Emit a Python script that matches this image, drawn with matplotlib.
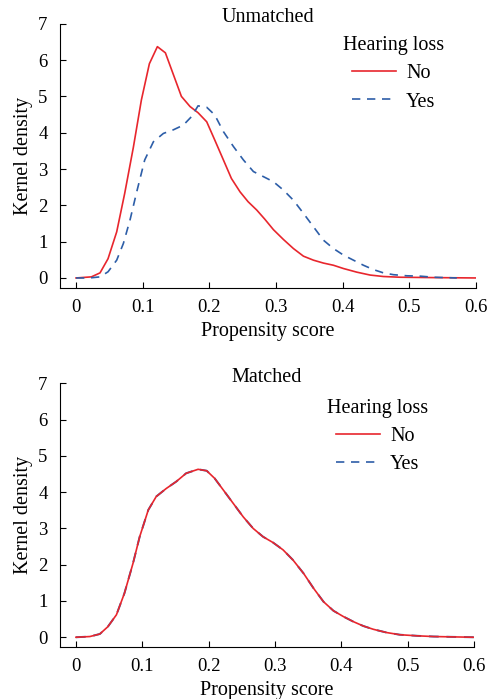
import matplotlib
matplotlib.use('Agg')
from matplotlib import pyplot as plt

plt.rcParams['font.family'] = ['Liberation Serif', 'DejaVu Serif']

# unmatched sample
x_um_no = [0, 0.023, 0.036, 0.048, 0.061, 0.073, 0.086, 0.098, 0.110, 0.122, 0.134,
           0.146, 0.158, 0.171, 0.183, 0.196, 0.208, 0.221, 0.233, 0.246, 0.258,
           0.271, 0.283, 0.296, 0.311, 0.326, 0.341, 0.356, 0.371, 0.386, 0.401,
           0.421, 0.441, 0.461, 0.486, 0.536, 0.6]
y_um_no = [0, 0.03, 0.14, 0.53, 1.27, 2.33, 3.6, 4.9, 5.9, 6.37, 6.2,
           5.6, 5.0, 4.72, 4.55, 4.3, 3.8, 3.25, 2.74, 2.37, 2.1,
           1.87, 1.62, 1.33, 1.06, 0.81, 0.6, 0.49, 0.41, 0.35, 0.26,
           0.16, 0.08, 0.04, 0.02, 0.01, 0]
x_um_yes = [0, 0.020, 0.036, 0.048, 0.061, 0.071, 0.081, 0.091, 0.103, 0.116, 0.131,
            0.146, 0.161, 0.173, 0.183, 0.196, 0.208, 0.221, 0.236, 0.251, 0.266,
            0.281, 0.296, 0.311, 0.326, 0.341, 0.356, 0.371, 0.386, 0.401, 0.416,
            0.431, 0.446, 0.461, 0.476, 0.496, 0.516, 0.536, 0.571]
y_um_yes = [0, 0, 0.03, 0.17, 0.49, 0.95, 1.6, 2.37, 3.25, 3.75, 3.98,
            4.08, 4.21, 4.44, 4.74, 4.7, 4.49, 4.03, 3.62, 3.25, 2.93,
            2.79, 2.65, 2.42, 2.14, 1.78, 1.41, 1.04, 0.81, 0.63, 0.49,
            0.35, 0.23, 0.14, 0.09, 0.06, 0.05, 0.02, 0]

# matched sample: both groups overlap
x_m = [0, 0.021, 0.036, 0.048, 0.061, 0.073, 0.086, 0.096, 0.109, 0.121, 0.136,
       0.151, 0.166, 0.184, 0.197, 0.209, 0.222, 0.237, 0.252, 0.267, 0.282,
       0.297, 0.312, 0.327, 0.343, 0.358, 0.373, 0.388, 0.403, 0.418, 0.433,
       0.448, 0.468, 0.488, 0.514, 0.539, 0.569, 0.6]
y_m_no = [0, 0.02, 0.09, 0.29, 0.62, 1.21, 2.04, 2.77, 3.51, 3.88, 4.1,
          4.29, 4.52, 4.63, 4.59, 4.38, 4.06, 3.69, 3.32, 3.0, 2.77,
          2.61, 2.41, 2.13, 1.76, 1.35, 0.98, 0.73, 0.57, 0.43, 0.31,
          0.22, 0.13, 0.07, 0.04, 0.02, 0.01, 0]
y_m_yes = list(y_m_no)

xticks = [0, 0.1, 0.2, 0.3, 0.4, 0.5, 0.6]
xtick_labels = ['0', '0.1', '0.2', '0.3', '0.4', '0.5', '0.6']
yticks = [0, 1, 2, 3, 4, 5, 6, 7]

RED = '#e8262d'
BLUE = '#2d5ea8'
FS = 14.5


def style_axes(ax, title, legend_anchor):
    ax.set_xlim(-0.024, 0.6)
    ax.set_ylim(-0.276, 7)
    ax.set_xticks(xticks)
    ax.set_xticklabels(xtick_labels)
    ax.set_yticks(yticks)
    ax.spines['top'].set_visible(False)
    ax.spines['right'].set_visible(False)
    ax.tick_params(direction='in', length=4, labelsize=13.5)
    ax.tick_params(axis='x', pad=8)
    ax.tick_params(axis='y', pad=9)
    ax.set_xlabel('Propensity score', fontsize=FS, labelpad=4)
    ax.set_ylabel('Kernel density', fontsize=FS, labelpad=4)
    # fixed y so matplotlib does not push the title above the "7" label
    ax.set_title(title, fontsize=FS, y=1.0, pad=1)
    ax.legend(title='Hearing loss', loc='upper left', bbox_to_anchor=legend_anchor,
              frameon=False, fontsize=FS, title_fontsize=FS,
              handlelength=2.2, handletextpad=0.5, labelspacing=0.45,
              borderaxespad=0, borderpad=0)


fig = plt.figure(figsize=(4.96, 6.99), dpi=100)

ax1 = fig.add_axes([0.121, 0.588, 0.839, 0.378])
ax1.plot(x_um_no, y_um_no, color=RED, lw=1.2, label='No')
ax1.plot(x_um_yes, y_um_yes, color=BLUE, lw=1.2, ls=(0, (5, 4)), label='Yes')
style_axes(ax1, 'Unmatched', (0.68, 0.953))

ax2 = fig.add_axes([0.121, 0.074, 0.835, 0.3776])
ax2.plot(x_m, y_m_yes, color=BLUE, lw=1.4, ls=(0, (5, 4)), label='_nolegend_')
ax2.plot(x_m, y_m_no, color=RED, lw=1.2, label='No')
ax2.plot([], [], color=BLUE, lw=1.2, ls=(0, (5, 4)), label='Yes')
style_axes(ax2, 'Matched', (0.645, 0.94))

fig.savefig('out.png', dpi=100)
